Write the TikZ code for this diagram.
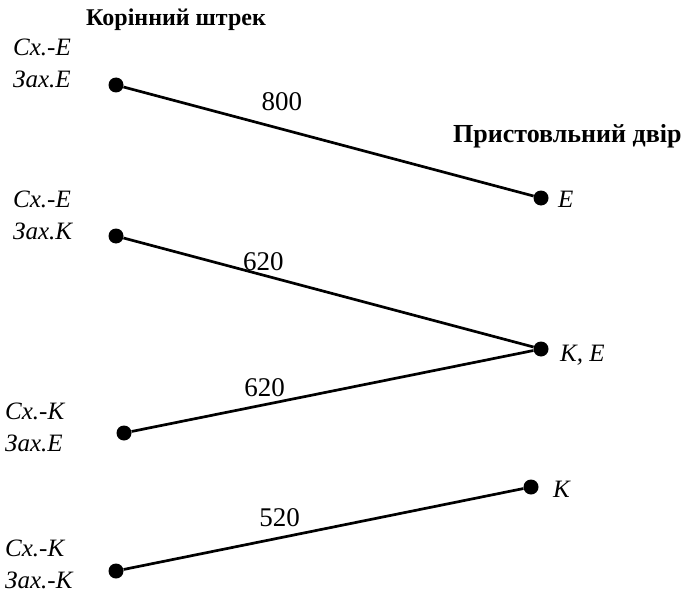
\documentclass[tikz,border=0pt]{standalone}
\usepackage{fontspec}
\setmainfont{Liberation Serif}
\usetikzlibrary{positioning}
\tikzset{
  dot/.style={circle, fill=black, inner sep=0pt, minimum size=15pt},
  link/.style={line width=2.7pt, draw=black},
  side/.style={anchor=base west, inner sep=0pt, font=\fontsize{25}{32}\selectfont\itshape},
  head/.style={anchor=base west, inner sep=0pt, font=\fontsize{24}{28}\selectfont\bfseries},
  dist/.style={anchor=base, inner sep=0pt, font=\fontsize{27}{30}\selectfont}
}
\newcommand{\twoline}[2]{%
  \begin{tabular}[t]{@{}l@{}}#1\\#2\end{tabular}%
}

\begin{document}
\begin{tikzpicture}[x=1pt, y=-1pt]
  \useasboundingbox (0,0) rectangle (683,594);

  % titles
  \node[head] (hroot) at (86,26) {Корінний штрек};
  \node[head, font=\fontsize{26}{30}\selectfont\bfseries] (hyard) at (453,142) {Пристовльний двір};

  % dots, left side
  \node[dot] (a1) at (116,85) {};
  \node[dot] (a2) at (116,236) {};
  \node[dot] (a3) at (124,433) {};
  \node[dot] (a4) at (116,571) {};
  % dots, right side
  \node[dot] (b1) at (541,198) {};
  \node[dot] (b2) at (541,349) {};
  \node[dot] (b3) at (531,487) {};

  % left labels
  \node[side] (l1) at (13,56) {\twoline{Сх.-Е}{Зах.Е}};
  \node[side] (l2) at (13,207) {\twoline{Сх.-Е}{Зах.К}};
  \node[side] (l3) at (5,419) {\twoline{Сх.-К}{Зах.Е}};
  \node[side] (l4) at (5,556) {\twoline{Сх.-К}{Зах.-К}};

  % right labels
  \node[side] (r1) at (558,207) {Е};
  \node[side] (r2) at (560,361) {К, Е};
  \node[side] (r3) at (553,497) {К};

  % connectors
  \draw[link] (a1) -- node[dist, pos=0.386, yshift=18.6pt] (d1) {800} (b1);
  \draw[link] (a2) -- node[dist, pos=0.341, yshift=4.5pt] (d2) {620} (b2);
  \draw[link] (a3) -- node[dist, pos=0.331, yshift=8pt] (d3) {620} (b2);
  \draw[link] (a4) -- node[dist, pos=0.39, yshift=11pt] (d4) {520} (b3);
\end{tikzpicture}
\end{document}
